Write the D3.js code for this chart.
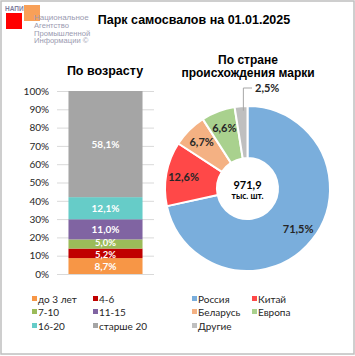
<!DOCTYPE html>
<html><head><meta charset="utf-8">
<script src="https://cdn.jsdelivr.net/npm/d3@7"></script>
<style>body{margin:0;background:#fff}svg{display:block}</style>
</head><body>
<svg id="c" width="355" height="356"></svg>
<script>
const ageCats = ["до 3 лет","4-6","7-10","11-15","16-20","старше 20"];
const ageVals = [8.7,5.2,5.0,11.0,12.1,58.1];
const ageColors = ["#F79646","#C00000","#9BBB59","#8064A2","#66CCC8","#A5A5A5"];
const yTicks = [0,10,20,30,40,50,60,70,80,90,100];

const countryCats = ["Россия","Китай","Беларусь","Европа","Другие"];
const countryVals = [71.5,12.6,6.7,6.6,2.5];
const countryColors = ["#7AAEDC","#FF4848","#F4B183","#A9D18E","#BFBFBF"];
const totalText = ["971,9","тыс. шт."];

const svg = d3.select("#c");
const fmt = v => v.toFixed(1).replace(".", ",") + "%";

// border
svg.append("rect").attr("x",1).attr("y",1).attr("width",353).attr("height",353)
  .attr("fill","#fff").attr("stroke","#BFBFBF").attr("stroke-width",1.5);

// logo
svg.append("rect").attr("x",6).attr("y",13).attr("width",16).attr("height",16).attr("fill","#FF0000");
svg.append("rect").attr("x",24).attr("y",5).attr("width",16).attr("height",16).attr("fill","#F79646").attr("opacity",0.9);
svg.append("text").attr("x",5).attr("y",11).attr("font-family","Liberation Sans, Arial").attr("font-size",6.5).attr("font-weight","bold").attr("fill","#7F7F9F").text("НАПИ");
["Национальное","Агентство","Промышленной","Информации ©"].forEach((t,i)=>{
  svg.append("text").attr("x",34).attr("y",20+i*7.8).attr("font-family","Liberation Sans, Arial")
    .attr("font-size",i===0?8:7.6).attr("fill","#9A9AB0").text(t);
});

// main title
svg.append("text").attr("x",194).attr("y",24).attr("text-anchor","middle")
  .attr("font-family","Liberation Sans, Arial").attr("font-weight","bold").attr("font-size",12.5)
  .attr("fill","#000").text("Парк самосвалов на 01.01.2025");

// subtitles
svg.append("text").attr("x",105).attr("y",75).attr("text-anchor","middle")
  .attr("font-family","Liberation Sans, Arial").attr("font-weight","bold").attr("font-size",12.5).text("По возрасту");
svg.append("text").attr("x",248).attr("y",64).attr("text-anchor","middle")
  .attr("font-family","Liberation Sans, Arial").attr("font-weight","bold").attr("font-size",12).text("По стране");
svg.append("text").attr("x",248).attr("y",77).attr("text-anchor","middle")
  .attr("font-family","Liberation Sans, Arial").attr("font-weight","bold").attr("font-size",12).text("происхождения марки");

// bar chart
const y = d3.scaleLinear().domain([0,100]).range([274,91]);
const x = d3.scaleBand().domain(["all"]).range([57,154]).paddingInner(0).paddingOuter(0.155);
const axis = d3.axisLeft(y).tickValues(yTicks).tickFormat(d=>d+"%").tickSize(0).tickPadding(8);
const gA = svg.append("g").attr("transform","translate(57,0)").call(axis);
gA.select(".domain").remove();
gA.selectAll("text").attr("font-family","Lato, Open Sans, sans-serif").attr("font-size",10).attr("fill","#262626");
svg.append("g").selectAll("line").data(yTicks).join("line")
  .attr("x1",57).attr("x2",154).attr("y1",d=>y(d)+0.5).attr("y2",d=>y(d)+0.5)
  .attr("stroke","#D9D9D9").attr("stroke-width",1);

let cum = 0;
const stack = ageVals.map((v,i)=>{const s={v,i,y0:cum,y1:Math.min(100,cum+v)};cum+=v;return s;});
svg.append("g").selectAll("rect").data(stack).join("rect")
  .attr("x",x("all")).attr("width",x.bandwidth())
  .attr("y",d=>y(d.y1)).attr("height",d=>y(d.y0)-y(d.y1))
  .attr("fill",d=>ageColors[d.i]);
const nudge = [0,1.5,-1,0,0,0];
svg.append("g").selectAll("text").data(stack).join("text")
  .attr("x",x("all")+x.bandwidth()/2).attr("y",d=>y((d.y0+d.y1)/2)+3.5+nudge[d.i])
  .attr("text-anchor","middle").attr("font-family","Lato, Open Sans, sans-serif")
  .attr("font-weight","bold").attr("font-size",d=>d.v<6?9.5:10).attr("fill","#fff").text(d=>fmt(d.v));

// donut
const cx = 247.5, cy = 188.5, R = 82.5, r0 = 30.5;
const pie = d3.pie().sort(null).value(d=>d)(countryVals);
const arc = d3.arc().innerRadius(r0).outerRadius(R);
const g = svg.append("g").attr("transform",`translate(${cx},${cy})`);
g.selectAll("path").data(pie).join("path").attr("d",arc)
  .attr("fill",(d,i)=>countryColors[i]).attr("stroke","#fff").attr("stroke-width",2).attr("stroke-linejoin","round");
const lab = d3.arc().innerRadius(65).outerRadius(65);
g.selectAll("text.l").data(pie.slice(0,4)).join("text").attr("class","l")
  .attr("x",d=>lab.centroid(d)[0]).attr("y",d=>lab.centroid(d)[1]+4)
  .attr("text-anchor","middle").attr("font-family","Lato, Open Sans, sans-serif")
  .attr("font-weight","bold").attr("font-size",11).attr("fill","#262626").text(d=>fmt(d.data));
// leader for last slice
const last = pie[4];
const p1 = d3.arc().innerRadius(78).outerRadius(78).centroid(last);
g.append("polyline").attr("points",`${p1[0]+2},${p1[1]} ${p1[0]+2},${88-cy} ${252-cx},${88-cy}`)
  .attr("fill","none").attr("stroke","#A6A6A6").attr("stroke-width",1);
svg.append("text").attr("x",255).attr("y",92).attr("font-family","Lato, Open Sans, sans-serif")
  .attr("font-weight","bold").attr("font-size",11).attr("fill","#262626").text(fmt(last.data));
g.append("text").attr("x",0).attr("y",0).attr("text-anchor","middle").attr("font-family","Lato, Open Sans, sans-serif")
  .attr("font-weight","bold").attr("font-size",11).attr("fill","#000").text(totalText[0]);
g.append("text").attr("x",0).attr("y",10).attr("text-anchor","middle").attr("font-family","Lato, Open Sans, sans-serif")
  .attr("font-weight","bold").attr("font-size",8.5).attr("fill","#000").text(totalText[1]);

// legends
function legend(items, colors, xs, ys){
  items.forEach((t,i)=>{
    const col = i%2, row = Math.floor(i/2);
    const lx = xs[col], ly = ys[row];
    svg.append("rect").attr("x",lx).attr("y",ly-3).attr("width",5).attr("height",5).attr("fill",colors[i]);
    svg.append("text").attr("x",lx+6).attr("y",ly+3.5).attr("font-family","Lato, Open Sans, sans-serif")
      .attr("font-size",10).attr("fill","#262626").text(t);
  });
}
legend(ageCats, ageColors, [32,93], [299,312,326]);
legend(countryCats, countryColors, [192,252], [299,312,326]);
</script>
</body></html>
